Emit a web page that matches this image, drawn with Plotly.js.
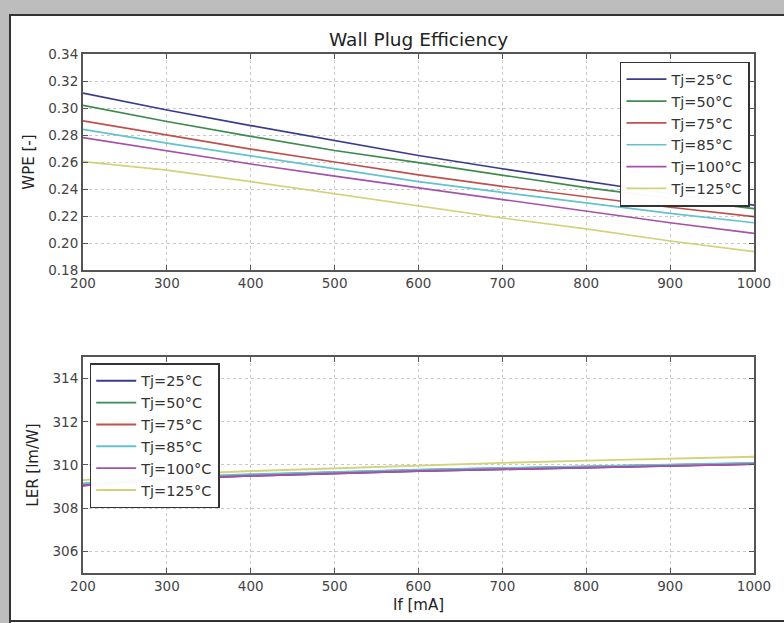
<!DOCTYPE html>
<html>
<head>
<meta charset="utf-8">
<script src="https://cdn.plot.ly/plotly-3.0.1.min.js"></script>
<style>
  html, body { margin: 0; padding: 0; background: #ffffff; }
  #wrap { position: relative; width: 784px; height: 623px; overflow: hidden; }
  #chart { position: absolute; left: 0; top: 0; width: 784px; height: 623px; }
  .ov { position: absolute; pointer-events: none; }
</style>
</head>
<body>
<div id="wrap">
  <div id="chart"></div>
  <div class="ov" style="left:0;top:0;width:784px;height:14px;background:#bdbdbd;"></div>
  <div class="ov" style="left:0;top:0;width:9px;height:623px;background:#bdbdbd;"></div>
  <div class="ov" style="left:9px;top:14px;width:775px;height:2px;background:#333;"></div>
  <div class="ov" style="left:9px;top:14px;width:2px;height:609px;background:#333;"></div>
  <div class="ov" style="left:9px;top:620px;width:775px;height:2px;background:#333;"></div>
</div>
<script>
// ---- data ----
const currentMA = [200, 300, 400, 500, 600, 700, 800, 900, 1000];
const seriesNames = ["Tj=25°C", "Tj=50°C", "Tj=75°C", "Tj=85°C", "Tj=100°C", "Tj=125°C"];

const wpe25  = [0.311, 0.2985, 0.287, 0.2758, 0.2648, 0.2550, 0.2455, 0.2365, 0.2280];
const wpe50  = [0.302, 0.2900, 0.2790, 0.2685, 0.2595, 0.2500, 0.2410, 0.2330, 0.2255];
const wpe75  = [0.2905, 0.2800, 0.2695, 0.2600, 0.2505, 0.2420, 0.2340, 0.2265, 0.2195];
const wpe85  = [0.2842, 0.2740, 0.2645, 0.2550, 0.2455, 0.2375, 0.2295, 0.2220, 0.2150];
const wpe100 = [0.2780, 0.2680, 0.2585, 0.2495, 0.2410, 0.2320, 0.2235, 0.2150, 0.2072];
const wpe125 = [0.2603, 0.2540, 0.2455, 0.2365, 0.2270, 0.2185, 0.2105, 0.2015, 0.1936];

const ler25  = [309.05, 309.35, 309.50, 309.62, 309.72, 309.80, 309.88, 309.96, 310.04];
const ler50  = [309.08, 309.37, 309.52, 309.64, 309.74, 309.82, 309.90, 309.98, 310.05];
const ler75  = [309.12, 309.40, 309.55, 309.67, 309.77, 309.85, 309.92, 310.00, 310.08];
const ler85  = [309.14, 309.42, 309.57, 309.68, 309.78, 309.86, 309.94, 310.02, 310.10];
const ler100 = [309.05, 309.36, 309.50, 309.62, 309.72, 309.80, 309.88, 309.96, 310.04];
const ler125 = [309.30, 309.55, 309.72, 309.85, 309.98, 310.10, 310.20, 310.30, 310.38];

const wpeTickVals = [0.18, 0.20, 0.22, 0.24, 0.26, 0.28, 0.30, 0.32, 0.34];
const lerTickVals = [306, 308, 310, 312, 314];
const xTickVals = [200, 300, 400, 500, 600, 700, 800, 900, 1000];

// ---- styling ----
const colors = ["#3b3b8e", "#3f8a50", "#c0504d", "#62c3cc", "#a552a8", "#d2d27a"];
const wpeSets = [wpe25, wpe50, wpe75, wpe85, wpe100, wpe125];
const lerSets = [ler25, ler50, ler75, ler85, ler100, ler125];

const traces = [];
wpeSets.forEach((ys, i) => {
  traces.push({
    x: currentMA, y: ys, type: "scatter", mode: "lines",
    name: seriesNames[i], line: {color: colors[i], width: 1.7},
    xaxis: "x", yaxis: "y", legend: "legend"
  });
});
lerSets.forEach((ys, i) => {
  traces.push({
    x: currentMA, y: ys, type: "scatter", mode: "lines",
    name: seriesNames[i], line: {color: colors[i], width: 1.9},
    xaxis: "x2", yaxis: "y2", legend: "legend2"
  });
});

const font = {family: "DejaVu Sans, sans-serif", size: 13, color: "#333"};
const axisCommon = {
  showline: true, linecolor: "#555", linewidth: 2, mirror: "allticks",
  ticks: "inside", ticklen: 5, tickcolor: "#555", tickwidth: 1,
  showgrid: true, gridcolor: "#c8c8c8", griddash: "dot", gridwidth: 1,
  zeroline: false, tickfont: {family: "DejaVu Sans, sans-serif", size: 13.5, color: "#444"}
};

const legendCommon = {
  bgcolor: "rgba(255,255,255,0.97)", bordercolor: "#333", borderwidth: 1.5,
  font: {family: "DejaVu Sans, sans-serif", size: 14.5, color: "#333"},
  tracegroupgap: 0, itemwidth: 40
};

const layout = {
  width: 784, height: 623,
  margin: {l: 83, r: 30, t: 54, b: 50},
  paper_bgcolor: "#ffffff", plot_bgcolor: "#ffffff",
  font: font,
  showlegend: true,
  title: {text: "Wall Plug Efficiency", x: 0.534, xanchor: "center", y: 0.936, yanchor: "middle",
          font: {family: "DejaVu Sans, sans-serif", size: 18.5, color: "#222"}},
  xaxis: Object.assign({}, axisCommon, {domain: [0, 1], range: [200, 1000], tickvals: xTickVals, anchor: "y"}),
  yaxis: Object.assign({}, axisCommon, {domain: [0.5838, 1], range: [0.18, 0.34], tickvals: wpeTickVals,
          tickformat: ".2f", anchor: "x",
          title: {text: "WPE [-]", standoff: 10, font: {family: "DejaVu Sans, sans-serif", size: 15, color: "#222"}}}),
  xaxis2: Object.assign({}, axisCommon, {domain: [0, 1], range: [200, 1000], tickvals: xTickVals, anchor: "y2",
          title: {text: "If [mA]", standoff: 6, font: {family: "DejaVu Sans, sans-serif", size: 15, color: "#222"}}}),
  yaxis2: Object.assign({}, axisCommon, {domain: [0, 0.4162], range: [305, 315], tickvals: lerTickVals, anchor: "x2",
          title: {text: "LER [lm/W]", standoff: 10, font: {family: "DejaVu Sans, sans-serif", size: 15, color: "#222"}}}),
  legend: Object.assign({}, legendCommon, {x: 0.994, xanchor: "right", y: 0.985, yanchor: "top", xref: "paper", yref: "paper"}),
  legend2: Object.assign({}, legendCommon, {x: 0.01, xanchor: "left", y: 0.404, yanchor: "top", xref: "paper", yref: "paper"})
};

Plotly.newPlot("chart", traces, layout, {displayModeBar: false, staticPlot: true});
</script>
</body>
</html>
